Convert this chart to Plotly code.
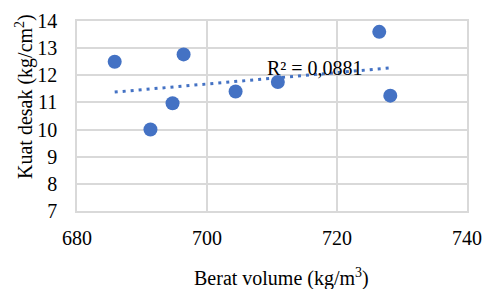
import numpy as np
import plotly.graph_objects as go

berat_volume = [685.8, 691.3, 694.7, 696.4, 704.4, 710.9, 726.5, 728.2]
kuat_desak = [12.5, 10.0, 10.97, 12.77, 11.4, 11.75, 13.6, 11.25]
x_ticks = [680, 700, 720, 740]
y_ticks = [7, 8, 9, 10, 11, 12, 13, 14]
r2_label = "R² = 0,0881"

x = np.array(berat_volume)
y = np.array(kuat_desak)
slope, intercept = np.polyfit(x, y, 1)
tx = np.array([x.min(), x.max()])
ty = slope * tx + intercept

fnt = "Liberation Serif"
blue = "#4472C4"
grid = "#D9D9D9"

W, H = 483, 289
l, r, t, b = 77, 16, 21, 78
pw, ph = W - l - r, H - t - b

def px(xp):
    return (xp - l) / pw

def py(yp):
    return 1 - (yp - t) / ph

fig = go.Figure()
fig.add_trace(go.Scatter(x=tx, y=ty, mode="lines",
                         line=dict(color=blue, width=3, dash="3px,5px"),
                         showlegend=False, hoverinfo="skip"))
fig.add_trace(go.Scatter(x=berat_volume, y=kuat_desak, mode="markers",
                         marker=dict(color=blue, size=14),
                         showlegend=False))

fig.update_layout(
    template="none",
    width=W, height=H,
    margin=dict(l=l, r=r, t=t, b=b),
    paper_bgcolor="white", plot_bgcolor="white",
    font=dict(family=fnt, size=20, color="#000000"),
    annotations=[
        dict(text=r2_label, x=px(265), y=py(68), xref="paper", yref="paper",
             showarrow=False, xanchor="left", yanchor="middle",
             font=dict(family=fnt, size=20, color="#000000")),
        dict(text="Kuat desak (kg/cm<sup>2</sup>)", x=px(24), y=py(97),
             xref="paper", yref="paper", showarrow=False,
             xanchor="center", yanchor="middle",
             textangle=-90, font=dict(family=fnt, size=20, color="#000000")),
        dict(text="Berat volume (kg/m<sup>3</sup>)", x=px(281), y=py(277),
             xref="paper", yref="paper", showarrow=False,
             xanchor="center", yanchor="middle",
             font=dict(family=fnt, size=20, color="#000000")),
    ],
)

for ax_update, rng, tv, tl in ((fig.update_xaxes, [680, 740], x_ticks, 8),
                               (fig.update_yaxes, [7, 14], y_ticks, 14)):
    ax_update(range=rng, tickvals=tv, showgrid=True, gridcolor=grid,
              gridwidth=1.5, zeroline=False, showline=True, linecolor=grid,
              linewidth=1.5, mirror=True, ticks="outside", ticklen=tl,
              tickcolor="rgba(0,0,0,0)", tickfont_family=fnt,
              tickfont_size=20, tickfont_color="#000000")

js = (
    "document.body.style.margin='0';"
    "document.querySelectorAll('.xtick text, .ytick text').forEach(function(t){"
    "t.style.fontFamily='Liberation Serif';});"
)
fig.write_html("out.html", config={"displayModeBar": False}, post_script=js)
